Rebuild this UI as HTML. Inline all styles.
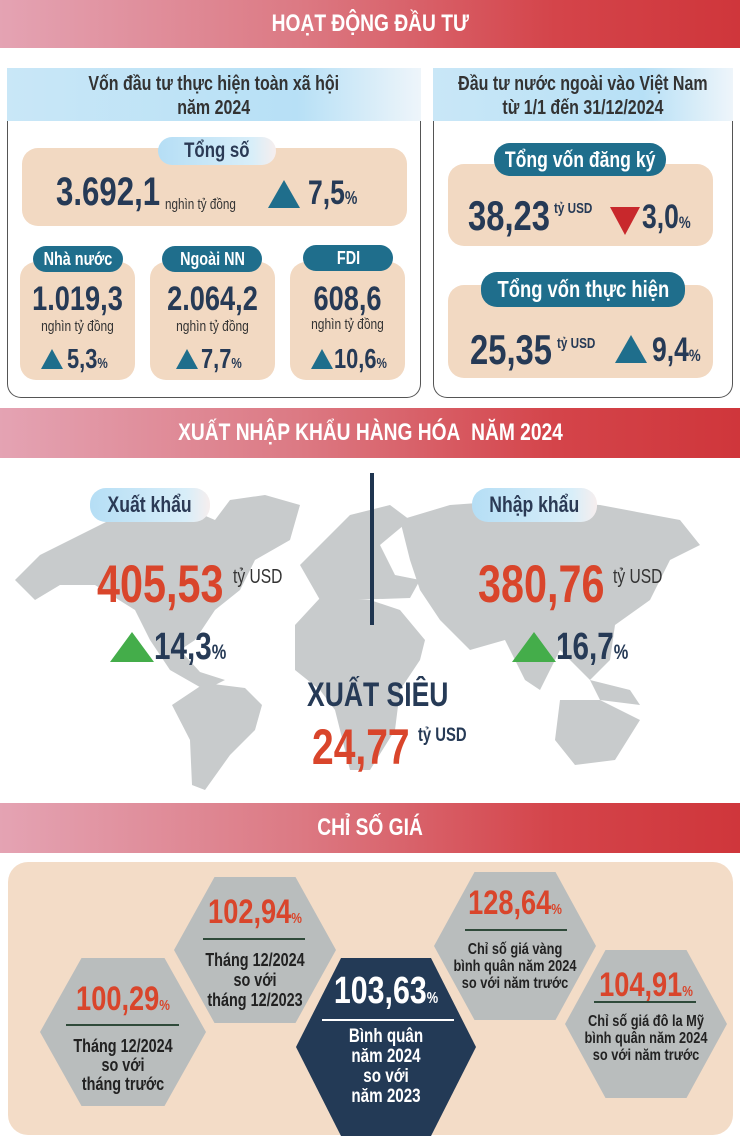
<!DOCTYPE html>
<html><head><meta charset="utf-8"><style>
*{margin:0;padding:0;box-sizing:border-box}
body{width:740px;height:1144px;background:#fff;position:relative;overflow:hidden;font-family:"Liberation Sans",sans-serif;color:#263a56}
.a{position:absolute;white-space:nowrap}
.s{transform:scaleX(.78);transform-origin:0 0}
.c{text-align:center;transform:scaleX(.8);transform-origin:50% 0}
.band{position:absolute;left:0;width:740px;height:50px;background:linear-gradient(90deg,#e4a3b3 0%,#dc7a84 40%,#d4444a 75%,#cf363b 100%);color:#fff;font-weight:bold;font-size:24px;text-align:center;line-height:50px}
.band span{display:inline-block;transform:scaleX(.8)}
.panel{position:absolute;border:1.5px solid #555;border-top:none;border-radius:0 0 14px 14px}
.ph{position:absolute;height:53px;background:linear-gradient(90deg,#c9e7f7,#b7e0f6 70%,#eef5fa);font-size:20px;font-weight:bold;line-height:24px;padding-top:4px;color:#333;display:flex;justify-content:center;white-space:nowrap}
.ph span{display:block;text-align:center;transform:scaleX(.8)}
.box{position:absolute;background:#f2d9c2;border-radius:16px}
.pill,.lpill{position:absolute;font-weight:bold;border-radius:16px;white-space:nowrap;display:flex;justify-content:center}
.pill{background:#1f6e8c;color:#fff}
.lpill{background:linear-gradient(90deg,#b5def5,#d8eef9 80%,#f6eeee);color:#2b3a55}
.pill span,.lpill span{display:block;transform:scaleX(.8);flex:none}
.num{font-weight:bold;color:#263a56}
.tri{width:0;height:0;border-left:16px solid transparent;border-right:16px solid transparent;border-bottom:28px solid #1f6e8c;position:absolute}
.hex{position:absolute;clip-path:polygon(25% 0,75% 0,100% 50%,75% 100%,25% 100%,0 50%);background:#b9bdbd}
.red{color:#d9452b;font-weight:bold}
</style></head><body>
<div class="band" style="top:0;height:48px;line-height:48px"><span>HOẠT ĐỘNG ĐẦU TƯ</span></div>

<div class="panel" style="left:7px;top:100px;width:414px;height:298px"></div>
<div class="ph" style="left:7px;top:68px;width:414px"><span>Vốn đầu tư thực hiện toàn xã hội<br>năm 2024</span></div>
<div class="box" style="left:22px;top:148px;width:385px;height:78px"></div>
<div class="lpill" style="left:158px;top:137px;width:118px;height:28px;font-size:21px;line-height:28px"><span>Tổng số</span></div>
<div class="a num s" style="left:56px;top:170px;font-size:40px">3.692,1</div>
<div class="a s" style="left:165px;top:196px;font-size:15px;color:#333">nghìn tỷ đồng</div>
<div class="tri" style="left:268px;top:180px"></div>
<div class="a num s" style="left:308px;top:174px;font-size:34px">7,5<span style="font-size:18px">%</span></div>

<div class="box" style="left:20px;top:262px;width:115px;height:118px"></div>
<div class="box" style="left:150px;top:262px;width:125px;height:118px"></div>
<div class="box" style="left:290px;top:262px;width:115px;height:118px"></div>
<div class="pill" style="left:33px;top:246px;width:90px;height:26px;font-size:18px;line-height:26px"><span>Nhà nước</span></div>
<div class="pill" style="left:162px;top:246px;width:100px;height:26px;font-size:18px;line-height:26px"><span>Ngoài NN</span></div>
<div class="pill" style="left:303px;top:245px;width:90px;height:26px;font-size:18px;line-height:26px"><span>FDI</span></div>
<div class="a num c" style="left:10px;top:280px;width:135px;font-size:34px">1.019,3</div>
<div class="a num c" style="left:145px;top:280px;width:135px;font-size:34px">2.064,2</div>
<div class="a num c" style="left:280px;top:280px;width:135px;font-size:34px">608,6</div>
<div class="a c" style="left:10px;top:318px;width:135px;font-size:15px;color:#333">nghìn tỷ đồng</div>
<div class="a c" style="left:145px;top:318px;width:135px;font-size:15px;color:#333">nghìn tỷ đồng</div>
<div class="a c" style="left:280px;top:316px;width:135px;font-size:15px;color:#333">nghìn tỷ đồng</div>
<div class="tri" style="left:41px;top:349px;border-left-width:11px;border-right-width:11px;border-bottom-width:20px"></div>
<div class="a num s" style="left:67px;top:343px;font-size:28px">5,3<span style="font-size:15px">%</span></div>
<div class="tri" style="left:176px;top:349px;border-left-width:11px;border-right-width:11px;border-bottom-width:20px"></div>
<div class="a num s" style="left:201px;top:343px;font-size:28px">7,7<span style="font-size:15px">%</span></div>
<div class="tri" style="left:311px;top:349px;border-left-width:11px;border-right-width:11px;border-bottom-width:20px"></div>
<div class="a num s" style="left:334px;top:343px;font-size:28px">10,6<span style="font-size:15px">%</span></div>

<div class="panel" style="left:433px;top:100px;width:300px;height:298px"></div>
<div class="ph" style="left:433px;top:68px;width:300px"><span>Đầu tư nước ngoài vào Việt Nam<br>từ 1/1 đến 31/12/2024</span></div>
<div class="box" style="left:448px;top:164px;width:265px;height:82px"></div>
<div class="pill" style="left:494px;top:143px;width:172px;height:33px;font-size:22px;line-height:33px"><span>Tổng vốn đăng ký</span></div>
<div class="a num s" style="left:468px;top:192px;font-size:42px">38,23</div>
<div class="a s" style="left:554px;top:200px;font-size:15px;font-weight:bold;color:#263a56">tỷ USD</div>
<div class="tri" style="left:610px;top:207px;border-bottom:none;border-top:28px solid #c8282c;border-left-width:15px;border-right-width:15px"></div>
<div class="a num s" style="left:642px;top:198px;font-size:34px">3,0<span style="font-size:17px">%</span></div>
<div class="box" style="left:448px;top:285px;width:265px;height:93px"></div>
<div class="pill" style="left:481px;top:272px;width:204px;height:35px;font-size:23px;line-height:35px"><span>Tổng vốn thực hiện</span></div>
<div class="a num s" style="left:470px;top:326px;font-size:42px">25,35</div>
<div class="a s" style="left:557px;top:335px;font-size:15px;font-weight:bold;color:#263a56">tỷ USD</div>
<div class="tri" style="left:615px;top:335px;border-bottom-width:28px"></div>
<div class="a num s" style="left:652px;top:331px;font-size:34px">9,4<span style="font-size:17px">%</span></div>

<div class="band" style="top:408px"><span>XUẤT NHẬP KHẨU HÀNG HÓA&nbsp; NĂM 2024</span></div>

<svg class="a" style="left:0;top:458px" width="740" height="345" viewBox="0 458 740 345">
<g fill="#c8cbcc">
<path d="M15,580 L40,555 L90,530 L130,510 L180,505 L215,520 L230,500 L265,495 L300,505 L290,540 L255,560 L240,590 L215,610 L195,640 L180,650 L200,672 L225,680 L205,690 L170,670 L150,640 L135,610 L95,585 L60,585 L35,600 Z"/>
<path d="M205,683 L245,688 L262,705 L255,730 L230,755 L205,790 L192,785 L190,740 L172,705 Z"/>
<path d="M300,565 L325,540 L350,515 L390,505 L410,520 L380,545 L395,575 L420,580 L410,598 L350,600 L320,600 Z"/>
<path d="M295,625 L320,598 L370,600 L400,610 L425,640 L420,660 L400,690 L395,730 L370,770 L350,770 L335,710 L320,690 L295,670 Z"/>
<path d="M400,520 L450,505 L520,500 L600,505 L680,520 L700,545 L670,560 L650,600 L615,625 L610,660 L590,680 L560,650 L540,690 L525,680 L505,640 L470,650 L440,620 L420,590 L410,560 Z"/>
<path d="M560,700 L600,700 L640,720 L615,760 L575,765 L555,740 Z"/>
<path d="M590,680 L630,690 L640,705 L600,700 Z"/>
</g>
<rect x="370" y="473" width="4" height="152" fill="#1f3550"/>
</svg>
<div class="lpill" style="left:90px;top:488px;width:120px;height:34px;font-size:22px;line-height:34px"><span>Xuất khẩu</span></div>
<div class="lpill" style="left:472px;top:488px;width:125px;height:34px;font-size:22px;line-height:34px"><span>Nhập khẩu</span></div>
<div class="a red s" style="left:97px;top:554px;font-size:53px">405,53</div>
<div class="a s" style="left:233px;top:566px;font-size:20px;color:#333">tỷ USD</div>
<div class="a red s" style="left:478px;top:554px;font-size:53px">380,76</div>
<div class="a s" style="left:613px;top:566px;font-size:20px;color:#333">tỷ USD</div>
<div class="tri" style="left:110px;top:632px;border-left-width:22px;border-right-width:22px;border-bottom:30px solid #44ad4a"></div>
<div class="a num s" style="left:154px;top:626px;font-size:38px">14,3<span style="font-size:21px">%</span></div>
<div class="tri" style="left:512px;top:632px;border-left-width:22px;border-right-width:22px;border-bottom:30px solid #44ad4a"></div>
<div class="a num s" style="left:556px;top:626px;font-size:38px">16,7<span style="font-size:21px">%</span></div>
<div class="a num s" style="left:307px;top:676px;font-size:34px">XUẤT SIÊU</div>
<div class="a red s" style="left:312px;top:718px;font-size:50px">24,77</div>
<div class="a s" style="left:418px;top:725px;font-size:19px;font-weight:bold;color:#263a56">tỷ USD</div>

<div class="band" style="top:803px"><span>CHỈ SỐ GIÁ</span></div>
<div class="box" style="left:8px;top:862px;width:725px;height:273px;background:#f3dcc7;border-radius:20px"></div>

<div class="hex" style="left:40px;top:958px;width:166px;height:148px"></div>
<div class="a red c" style="left:30px;top:980px;width:186px;font-size:34px">100,29<span style="font-size:15px">%</span></div>
<div class="a" style="left:66px;top:1024px;width:113px;height:2px;background:#2f4a3a"></div>
<div class="a c" style="left:30px;top:1037px;width:186px;font-size:18px;font-weight:bold;line-height:19px;color:#222">Tháng 12/2024<br>so với<br>tháng trước</div>

<div class="hex" style="left:174px;top:877px;width:162px;height:146px"></div>
<div class="a red c" style="left:164px;top:893px;width:182px;font-size:34px">102,94<span style="font-size:15px">%</span></div>
<div class="a" style="left:203px;top:938px;width:102px;height:2px;background:#2f4a3a"></div>
<div class="a c" style="left:164px;top:950px;width:182px;font-size:18px;font-weight:bold;line-height:20px;color:#222">Tháng 12/2024<br>so với<br>tháng 12/2023</div>

<div class="hex" style="left:296px;top:958px;width:180px;height:178px;background:#233a56"></div>
<div class="a c" style="left:286px;top:970px;width:200px;font-size:38px;font-weight:bold;color:#fff">103,63<span style="font-size:16px">%</span></div>
<div class="a" style="left:322px;top:1019px;width:132px;height:2px;background:#fff"></div>
<div class="a c" style="left:286px;top:1027px;width:200px;font-size:19px;font-weight:bold;line-height:20px;color:#fff">Bình quân<br>năm 2024<br>so với<br>năm 2023</div>

<div class="hex" style="left:434px;top:872px;width:162px;height:148px"></div>
<div class="a red c" style="left:424px;top:884px;width:182px;font-size:34px">128,64<span style="font-size:15px">%</span></div>
<div class="a" style="left:465px;top:929px;width:102px;height:2px;background:#2f4a3a"></div>
<div class="a c" style="left:424px;top:941px;width:182px;font-size:16px;font-weight:bold;line-height:17px;color:#222">Chỉ số giá vàng<br>bình quân năm 2024<br>so với năm trước</div>

<div class="hex" style="left:565px;top:950px;width:162px;height:148px"></div>
<div class="a red c" style="left:555px;top:966px;width:182px;font-size:34px">104,91<span style="font-size:15px">%</span></div>
<div class="a" style="left:594px;top:1001px;width:102px;height:2px;background:#2f4a3a"></div>
<div class="a c" style="left:555px;top:1013px;width:182px;font-size:16px;font-weight:bold;line-height:17px;color:#222">Chỉ số giá đô la Mỹ<br>bình quân năm 2024<br>so với năm trước</div>
</body></html>
